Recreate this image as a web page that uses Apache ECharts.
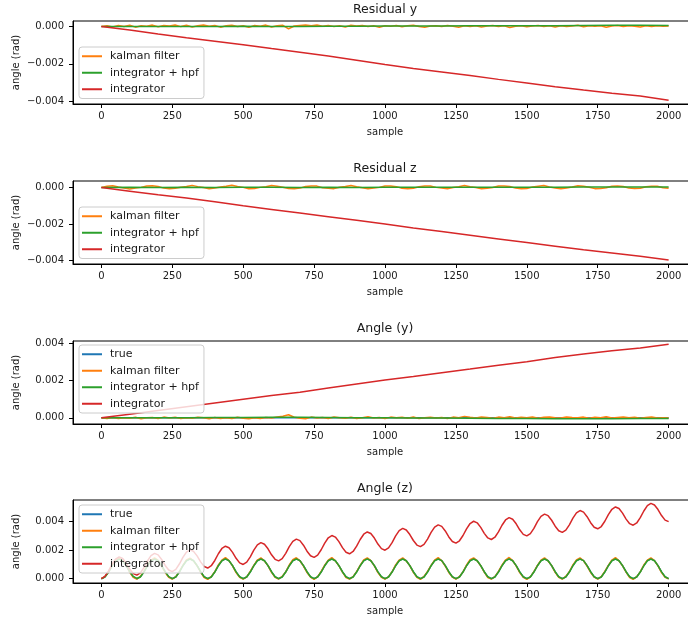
<!DOCTYPE html>
<html><head><meta charset="utf-8">
<script src="https://cdn.jsdelivr.net/npm/echarts@6/dist/echarts.min.js"></script>
<style>html,body{margin:0;padding:0;background:#fff}#c{width:688px;height:619px}</style>
</head><body><div id="c"></div>
<script>
// ---------- sample positions ----------
const samplesCoarse = [0,100,200,300,400,500,600,700,800,900,1000,1100,1200,1300,1400,1500,1600,1700,1800,1900,2000];
const samplesNoise = [
0,20,40,60,80,100,120,140,160,180,200,220,240,260,280,300,320,340,360,380,
400,420,440,460,480,500,520,540,560,580,600,620,640,660,680,700,720,740,760,780,
800,820,840,860,880,900,920,940,960,980,1000,1020,1040,1060,1080,1100,1120,1140,1160,1180,
1200,1220,1240,1260,1280,1300,1320,1340,1360,1380,1400,1420,1440,1460,1480,1500,1520,1540,1560,1580,
1600,1620,1640,1660,1680,1700,1720,1740,1760,1780,1800,1820,1840,1860,1880,1900,1920,1940,1960,1980,2000];
const samplesWave = [
0,12.5,25,37.5,50,62.5,75,87.5,100,112.5,125,137.5,150,162.5,175,187.5,
200,212.5,225,237.5,250,262.5,275,287.5,300,312.5,325,337.5,350,362.5,375,387.5,
400,412.5,425,437.5,450,462.5,475,487.5,500,512.5,525,537.5,550,562.5,575,587.5,
600,612.5,625,637.5,650,662.5,675,687.5,700,712.5,725,737.5,750,762.5,775,787.5,
800,812.5,825,837.5,850,862.5,875,887.5,900,912.5,925,937.5,950,962.5,975,987.5,
1000,1012.5,1025,1037.5,1050,1062.5,1075,1087.5,1100,1112.5,1125,1137.5,1150,1162.5,1175,1187.5,
1200,1212.5,1225,1237.5,1250,1262.5,1275,1287.5,1300,1312.5,1325,1337.5,1350,1362.5,1375,1387.5,
1400,1412.5,1425,1437.5,1450,1462.5,1475,1487.5,1500,1512.5,1525,1537.5,1550,1562.5,1575,1587.5,
1600,1612.5,1625,1637.5,1650,1662.5,1675,1687.5,1700,1712.5,1725,1737.5,1750,1762.5,1775,1787.5,
1800,1812.5,1825,1837.5,1850,1862.5,1875,1887.5,1900,1912.5,1925,1937.5,1950,1962.5,1975,1987.5,2000];

// ---------- Residual y ----------
const residYKalman = [
0,4e-5,-2e-5,6e-5,1e-5,7e-5,-3e-5,5e-5,2e-5,8e-5,-1e-5,6e-5,3e-5,9e-5,0,7e-5,-2e-5,5e-5,8e-5,2e-5,
6e-5,-3e-5,4e-5,7e-5,1e-5,5e-5,-4e-5,6e-5,2e-5,8e-5,-2e-5,4e-5,7e-5,-12e-5,3e-5,6e-5,9e-5,4e-5,8e-5,2e-5,
6e-5,1e-5,5e-5,-2e-5,7e-5,3e-5,6e-5,0,4e-5,-3e-5,5e-5,2e-5,6e-5,-1e-5,4e-5,7e-5,1e-5,-4e-5,3e-5,5e-5,
0,6e-5,2e-5,-3e-5,4e-5,1e-5,5e-5,-2e-5,3e-5,6e-5,0,4e-5,-5e-5,2e-5,5e-5,-1e-5,3e-5,6e-5,1e-5,4e-5,
-2e-5,5e-5,0,3e-5,7e-5,-1e-5,4e-5,2e-5,5e-5,-3e-5,3e-5,6e-5,0,4e-5,2e-5,-2e-5,5e-5,1e-5,4e-5,2e-5,3e-5];
const residYHpf = [0,0,1e-5,1e-5,1e-5,2e-5,1e-5,1e-5,2e-5,2e-5,3e-5,3e-5,3e-5,4e-5,4e-5,5e-5,5e-5,6e-5,7e-5,7e-5,6e-5];
const residYInteg = [0,-18e-5,-40e-5,-60e-5,-78e-5,-97e-5,-118e-5,-138e-5,-158e-5,-180e-5,-203e-5,-225e-5,-243e-5,-262e-5,-283e-5,-302e-5,-322e-5,-340e-5,-357e-5,-372e-5,-395e-5];

// ---------- Residual z ----------
const residZKalman = [
0,7e-5,10e-5,3e-5,-2e-5,-8e-5,-3e-5,1e-5,9e-5,10e-5,6e-5,-3e-5,-6e-5,-4e-5,2e-5,6e-5,12e-5,5e-5,0,-7e-5,
-3e-5,3e-5,7e-5,13e-5,6e-5,1e-5,-6e-5,-5e-5,1e-5,5e-5,11e-5,7e-5,2e-5,-5e-5,-6e-5,-3e-5,6e-5,8e-5,8e-5,-1e-5,
-4e-5,-6e-5,2e-5,6e-5,11e-5,4e-5,-1e-5,-7e-5,-3e-5,1e-5,9e-5,8e-5,5e-5,-4e-5,-6e-5,-4e-5,4e-5,8e-5,9e-5,1e-5,
-3e-5,-7e-5,0,5e-5,11e-5,5e-5,0,-7e-5,-4e-5,0,8e-5,8e-5,6e-5,-3e-5,-6e-5,-5e-5,3e-5,7e-5,11e-5,3e-5,
-2e-5,-7e-5,-2e-5,3e-5,10e-5,7e-5,2e-5,-6e-5,-5e-5,-1e-5,7e-5,8e-5,6e-5,-3e-5,-5e-5,-4e-5,4e-5,7e-5,7e-5,-1e-5,-4e-5];
const residZHpf = [0,1e-5,0,1e-5,0,1e-5,1e-5,0,1e-5,0,1e-5,1e-5,2e-5,1e-5,2e-5,2e-5,2e-5,3e-5,3e-5,3e-5,3e-5];
const residZInteg = [0,-20e-5,-40e-5,-58e-5,-78e-5,-100e-5,-120e-5,-140e-5,-160e-5,-180e-5,-200e-5,-222e-5,-242e-5,-262e-5,-282e-5,-302e-5,-322e-5,-342e-5,-360e-5,-378e-5,-398e-5];

// ---------- Angle (y) ----------
const angleYTrue = [0,0,0,0,0,0,0,0,0,0,0,0,0,0,0,0,0,0,0,0,0];
const angleYKalman = [
0,-3e-5,2e-5,-4e-5,1e-5,-2e-5,3e-5,-5e-5,0,2e-5,-3e-5,4e-5,-1e-5,3e-5,-4e-5,1e-5,-2e-5,3e-5,0,-5e-5,
2e-5,-3e-5,1e-5,-4e-5,3e-5,-2e-5,-5e-5,1e-5,-3e-5,2e-5,-1e-5,4e-5,9e-5,17e-5,3e-5,-2e-5,-5e-5,4e-5,-1e-5,2e-5,
-3e-5,5e-5,0,-2e-5,3e-5,-4e-5,1e-5,6e-5,-1e-5,2e-5,-3e-5,4e-5,0,3e-5,-2e-5,5e-5,-4e-5,1e-5,3e-5,-1e-5,
2e-5,-3e-5,4e-5,1e-5,8e-5,3e-5,-1e-5,5e-5,2e-5,-2e-5,4e-5,1e-5,6e-5,-1e-5,3e-5,0,5e-5,-2e-5,3e-5,4e-5,
1e-5,-1e-5,5e-5,2e-5,0,4e-5,-2e-5,3e-5,1e-5,6e-5,-1e-5,2e-5,4e-5,0,3e-5,-2e-5,2e-5,5e-5,-1e-5,1e-5,-1e-5];
const angleYHpf = [0,0,1e-5,1e-5,2e-5,2e-5,3e-5,3e-5,2e-5,1e-5,0,-1e-5,-1e-5,-2e-5,-3e-5,-4e-5,-5e-5,-5e-5,-5e-5,-4e-5,-3e-5];
const angleYInteg = [0,20e-5,40e-5,60e-5,80e-5,100e-5,120e-5,138e-5,160e-5,182e-5,203e-5,222e-5,242e-5,262e-5,283e-5,302e-5,324e-5,343e-5,360e-5,375e-5,396e-5];

// ---------- Angle (z) ----------
const angleZTrue = [
0,13e-5,48e-5,92e-5,127e-5,140e-5,127e-5,92e-5,48e-5,13e-5,
0,13e-5,48e-5,92e-5,127e-5,140e-5,127e-5,92e-5,48e-5,13e-5,
0,13e-5,48e-5,92e-5,127e-5,140e-5,127e-5,92e-5,48e-5,13e-5,
0,13e-5,48e-5,92e-5,127e-5,140e-5,127e-5,92e-5,48e-5,13e-5,
0,13e-5,48e-5,92e-5,127e-5,140e-5,127e-5,92e-5,48e-5,13e-5,
0,13e-5,48e-5,92e-5,127e-5,140e-5,127e-5,92e-5,48e-5,13e-5,
0,13e-5,48e-5,92e-5,127e-5,140e-5,127e-5,92e-5,48e-5,13e-5,
0,13e-5,48e-5,92e-5,127e-5,140e-5,127e-5,92e-5,48e-5,13e-5,
0,13e-5,48e-5,92e-5,127e-5,140e-5,127e-5,92e-5,48e-5,13e-5,
0,13e-5,48e-5,92e-5,127e-5,140e-5,127e-5,92e-5,48e-5,13e-5,
0,13e-5,48e-5,92e-5,127e-5,140e-5,127e-5,92e-5,48e-5,13e-5,
0,13e-5,48e-5,92e-5,127e-5,140e-5,127e-5,92e-5,48e-5,13e-5,
0,13e-5,48e-5,92e-5,127e-5,140e-5,127e-5,92e-5,48e-5,13e-5,
0,13e-5,48e-5,92e-5,127e-5,140e-5,127e-5,92e-5,48e-5,13e-5,
0,13e-5,48e-5,92e-5,127e-5,140e-5,127e-5,92e-5,48e-5,13e-5,
0,13e-5,48e-5,92e-5,127e-5,140e-5,127e-5,92e-5,48e-5,13e-5,
0];
const angleZKalman = [
0,15e-5,46e-5,95e-5,131e-5,146e-5,124e-5,94e-5,45e-5,9e-5,
-3e-5,16e-5,51e-5,96e-5,129e-5,147e-5,128e-5,89e-5,44e-5,10e-5,
-2e-5,14e-5,50e-5,93e-5,132e-5,145e-5,125e-5,91e-5,46e-5,8e-5,
-4e-5,15e-5,49e-5,97e-5,130e-5,148e-5,127e-5,90e-5,43e-5,10e-5,
-3e-5,13e-5,52e-5,94e-5,131e-5,146e-5,124e-5,92e-5,45e-5,9e-5,
-2e-5,16e-5,48e-5,96e-5,133e-5,147e-5,126e-5,89e-5,44e-5,11e-5,
-4e-5,14e-5,51e-5,95e-5,130e-5,149e-5,125e-5,91e-5,46e-5,8e-5,
-3e-5,15e-5,50e-5,93e-5,132e-5,146e-5,127e-5,90e-5,43e-5,10e-5,
-2e-5,13e-5,49e-5,97e-5,131e-5,147e-5,124e-5,92e-5,45e-5,9e-5,
-4e-5,16e-5,52e-5,94e-5,130e-5,148e-5,126e-5,89e-5,44e-5,11e-5,
-3e-5,14e-5,48e-5,96e-5,133e-5,146e-5,125e-5,91e-5,46e-5,8e-5,
-2e-5,15e-5,51e-5,95e-5,131e-5,149e-5,127e-5,90e-5,43e-5,10e-5,
-4e-5,13e-5,50e-5,93e-5,130e-5,147e-5,124e-5,92e-5,45e-5,9e-5,
-3e-5,16e-5,49e-5,97e-5,132e-5,146e-5,126e-5,89e-5,44e-5,11e-5,
-2e-5,14e-5,52e-5,94e-5,131e-5,148e-5,125e-5,91e-5,46e-5,8e-5,
-4e-5,15e-5,48e-5,96e-5,130e-5,147e-5,127e-5,90e-5,43e-5,10e-5,
-1e-5];
const angleZHpf = [
0,11e-5,44e-5,88e-5,123e-5,137e-5,126e-5,93e-5,50e-5,16e-5,
2e-5,12e-5,46e-5,90e-5,125e-5,138e-5,126e-5,92e-5,49e-5,15e-5,
1e-5,12e-5,47e-5,91e-5,126e-5,138e-5,126e-5,92e-5,49e-5,14e-5,
1e-5,12e-5,47e-5,91e-5,126e-5,139e-5,126e-5,92e-5,48e-5,14e-5,
1e-5,12e-5,47e-5,91e-5,126e-5,138e-5,126e-5,92e-5,49e-5,14e-5,
1e-5,12e-5,47e-5,91e-5,126e-5,138e-5,127e-5,92e-5,49e-5,14e-5,
1e-5,12e-5,47e-5,91e-5,126e-5,138e-5,126e-5,92e-5,49e-5,14e-5,
1e-5,12e-5,47e-5,91e-5,126e-5,139e-5,126e-5,92e-5,48e-5,14e-5,
1e-5,12e-5,47e-5,91e-5,126e-5,138e-5,126e-5,92e-5,49e-5,14e-5,
1e-5,12e-5,47e-5,91e-5,126e-5,138e-5,127e-5,92e-5,49e-5,14e-5,
1e-5,12e-5,47e-5,91e-5,126e-5,138e-5,126e-5,92e-5,49e-5,14e-5,
1e-5,12e-5,47e-5,91e-5,126e-5,139e-5,126e-5,92e-5,48e-5,14e-5,
1e-5,12e-5,47e-5,91e-5,126e-5,138e-5,126e-5,92e-5,49e-5,14e-5,
1e-5,12e-5,47e-5,91e-5,126e-5,138e-5,127e-5,92e-5,49e-5,14e-5,
1e-5,12e-5,47e-5,91e-5,126e-5,138e-5,126e-5,92e-5,49e-5,14e-5,
1e-5,12e-5,47e-5,91e-5,126e-5,138e-5,126e-5,92e-5,48e-5,14e-5,
1e-5];
const angleZInteg = [
0,16e-5,53e-5,100e-5,137e-5,153e-5,142e-5,110e-5,68e-5,36e-5,
25e-5,41e-5,78e-5,125e-5,162e-5,178e-5,167e-5,135e-5,93e-5,61e-5,
50e-5,66e-5,103e-5,150e-5,187e-5,203e-5,192e-5,160e-5,118e-5,86e-5,
75e-5,91e-5,128e-5,175e-5,212e-5,228e-5,217e-5,185e-5,143e-5,111e-5,
100e-5,116e-5,153e-5,200e-5,237e-5,253e-5,242e-5,210e-5,168e-5,136e-5,
125e-5,141e-5,178e-5,225e-5,262e-5,278e-5,267e-5,235e-5,193e-5,161e-5,
150e-5,166e-5,203e-5,250e-5,287e-5,303e-5,292e-5,260e-5,218e-5,186e-5,
175e-5,191e-5,228e-5,275e-5,312e-5,328e-5,317e-5,285e-5,243e-5,211e-5,
200e-5,216e-5,253e-5,300e-5,337e-5,353e-5,342e-5,310e-5,268e-5,236e-5,
225e-5,241e-5,278e-5,325e-5,362e-5,378e-5,367e-5,335e-5,293e-5,261e-5,
250e-5,266e-5,303e-5,350e-5,387e-5,403e-5,392e-5,360e-5,318e-5,286e-5,
275e-5,291e-5,328e-5,375e-5,412e-5,428e-5,417e-5,385e-5,343e-5,311e-5,
300e-5,316e-5,353e-5,400e-5,437e-5,453e-5,442e-5,410e-5,368e-5,336e-5,
325e-5,341e-5,378e-5,425e-5,462e-5,478e-5,467e-5,435e-5,393e-5,361e-5,
350e-5,366e-5,403e-5,450e-5,487e-5,503e-5,492e-5,460e-5,418e-5,386e-5,
375e-5,391e-5,428e-5,475e-5,512e-5,528e-5,517e-5,485e-5,443e-5,411e-5,
400e-5];

// ---------- ticks ----------
const xTickValues = [0,250,500,750,1000,1250,1500,1750,2000];
const xTickLabels = ['0','250','500','750','1000','1250','1500','1750','2000'];
const yTickValuesResid = [-0.004,-0.002,0];
const yTickLabelsResid = ['\u22120.004','\u22120.002','0.000'];
const yTickValuesAngle = [0,0.002,0.004];
const yTickLabelsAngle = ['0.000','0.002','0.004'];

const titles = ['Residual y','Residual z','Angle (y)','Angle (z)'];
const names = {true:'true', kalman:'kalman filter', hpf:'integrator + hpf', integ:'integrator'};
const colors = {true:'#1f77b4', kalman:'#ff7f0e', hpf:'#2ca02c', integ:'#d62728'};

// ---------- layout ----------
const FONT = 'DejaVu Sans';
const TXT = '#1a1a1a';
const panels = [
  {top:21, ymin:-0.00415, ymax:0.0003, tv:yTickValuesResid, tl:yTickLabelsResid, titleTop:3, legendTop:47,
   series:[['kalman',samplesNoise,residYKalman],['hpf',samplesCoarse,residYHpf],['integ',samplesCoarse,residYInteg]]},
  {top:181, ymin:-0.0042, ymax:0.00036, tv:yTickValuesResid, tl:yTickLabelsResid, titleTop:162, legendTop:207,
   series:[['kalman',samplesNoise,residZKalman],['hpf',samplesCoarse,residZHpf],['integ',samplesCoarse,residZInteg]]},
  {top:341, ymin:-0.00033, ymax:0.00413, tv:yTickValuesAngle, tl:yTickLabelsAngle, titleTop:322, legendTop:345,
   series:[['true',samplesCoarse,angleYTrue],['kalman',samplesNoise,angleYKalman],['hpf',samplesCoarse,angleYHpf],['integ',samplesCoarse,angleYInteg]]},
  {top:500, ymin:-0.0003, ymax:0.00552, tv:yTickValuesAngle, tl:yTickLabelsAngle, titleTop:482, legendTop:505,
   series:[['true',samplesWave,angleZTrue],['kalman',samplesWave,angleZKalman],['hpf',samplesWave,angleZHpf],['integ',samplesWave,angleZInteg]]}
];

function lookup(vals, labels){
  return function(v){
    for (let i=0;i<vals.length;i++){ if (Math.abs(vals[i]-v) < 1e-9) return labels[i]; }
    return '';
  };
}
const txtStyle = {fontSize:10, color:TXT, fontFamily:FONT};

const option = {
  backgroundColor:'#ffffff',
  animation:false,
  title: panels.map((p,i)=>({text:titles[i], left:385, top:p.titleTop, textAlign:'center', padding:0,
    textStyle:{fontSize:12.5, fontWeight:'normal', color:TXT, fontFamily:FONT}})),
  grid: panels.map(p=>({left:73, top:p.top, width:624, height:83, outerBoundsMode:'none', containLabel:false,
    show:true, borderColor:'#000', borderWidth:1, backgroundColor:'transparent'})),
  xAxis: panels.map((p,i)=>({
    gridIndex:i, type:'value', min:-100, max:2100,
    name:'sample', nameLocation:'middle', nameGap:23, nameMoveOverlap:false, nameTextStyle:txtStyle,
    axisLine:{show:true, onZero:false, lineStyle:{color:'#000', width:1}},
    axisTick:{show:true, length:4, customValues:xTickValues, lineStyle:{color:'#000', width:1}},
    axisLabel:{customValues:xTickValues, formatter:lookup(xTickValues,xTickLabels), margin:7, ...txtStyle},
    splitLine:{show:false}
  })),
  yAxis: panels.map((p,i)=>({
    gridIndex:i, type:'value', min:p.ymin, max:p.ymax,
    name:'angle (rad)', nameLocation:'middle', nameGap:52, nameMoveOverlap:false, nameTextStyle:txtStyle,
    axisLine:{show:true, onZero:false, lineStyle:{color:'#000', width:1}},
    axisTick:{show:true, length:4, customValues:p.tv, lineStyle:{color:'#000', width:1}},
    axisLabel:{customValues:p.tv, formatter:lookup(p.tv,p.tl), margin:9, ...txtStyle},
    splitLine:{show:false}
  })),
  legend: panels.map(p=>({
    left:79, top:p.legendTop, orient:'vertical',
    data: p.series.map(s=>names[s[0]]),
    icon:'rect', itemWidth:20, itemHeight:2, itemGap:4,
    padding:[3,5,3,3],
    backgroundColor:'rgba(255,255,255,0.8)', borderColor:'#cccccc', borderWidth:1, borderRadius:3,
    textStyle:{fontSize:11, color:TXT, fontFamily:FONT, lineHeight:12.5, padding:[0,0,0,3]},
    selectedMode:false
  })),
  series: []
};
panels.forEach((p,i)=>{
  p.series.forEach(s=>{
    const key = s[0], xs = s[1], ys = s[2];
    option.series.push({
      type:'line', name:names[key], xAxisIndex:i, yAxisIndex:i,
      data: xs.map((x,k)=>[x, ys[k]]),
      showSymbol:false, symbol:'none',
      lineStyle:{color:colors[key], width:1.5},
      itemStyle:{color:colors[key]},
      emphasis:{disabled:true}, silent:true, clip:true
    });
  });
});
const chart = echarts.init(document.getElementById('c'));
chart.setOption(option);
</script>
</body></html>
